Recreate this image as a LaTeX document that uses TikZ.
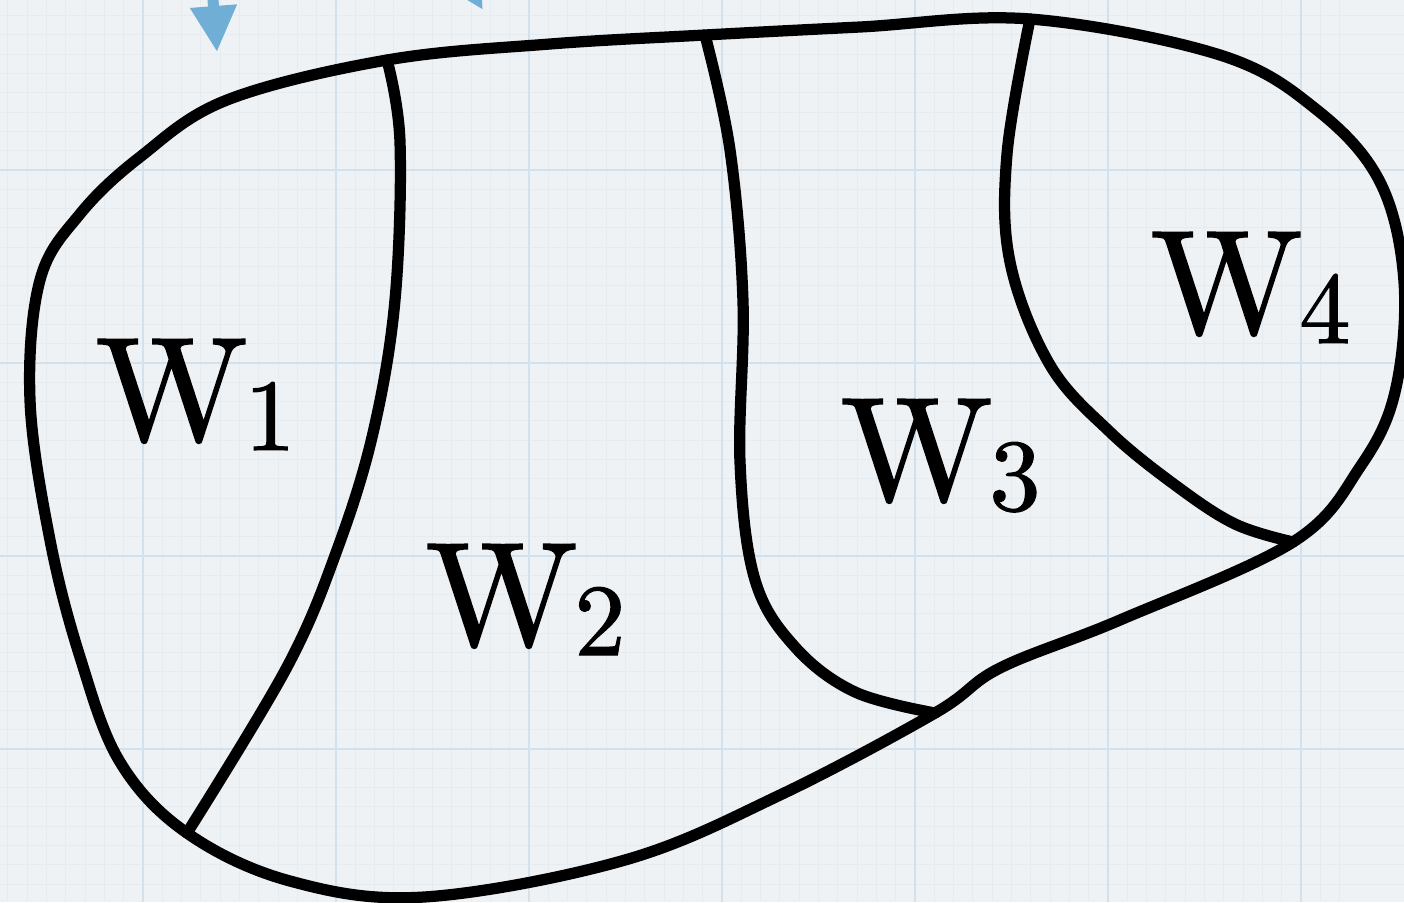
\documentclass[tikz,border=0pt]{standalone}
\usepackage{fontspec}
\usetikzlibrary{arrows.meta}
\newfontfamily\wfont[FakeBold=1.2]{lmroman10-regular.otf}
\definecolor{paper}{RGB}{238,242,245}
\definecolor{gridmajor}{RGB}{210,225,238}
\definecolor{gridminor}{RGB}{228,235,241}
\definecolor{arrowblue}{RGB}{112,174,214}
\newcommand{\wsub}[1]{W\kern-0.03cm\raisebox{-0.1cm}{\fontsize{29}{30}\selectfont #1}}
\begin{document}
\begin{tikzpicture}[
			chalk/.style={draw=black, line width=3.2pt, line cap=round, line join=round},
			wtext/.style={anchor=base west, inner sep=0pt, font=\wfont\fontsize{42}{50}\selectfont},
			arrow/.style={draw=arrowblue, line width=1.1mm, -{Triangle[length=4.6mm,width=4.4mm]}}
		]
		% Sfondo
		\clip (0,0) rectangle (14.04,9.02);
		\fill[paper] (0,0) rectangle (14.04,9.02);
		\foreach \x in {0,...,72} \draw[gridminor, line width=0.3pt] ({-0.50+\x*0.193},0) -- ++(0,9.02);
		\foreach \y in {0,...,48} \draw[gridminor, line width=0.3pt] (0,{-0.40+\y*0.193}) -- ++(14.04,0);
		\foreach \x in {0,...,7} \draw[gridmajor, line width=0.8pt] ({-0.50+\x*1.93},0) -- ++(0,9.02);
		\foreach \y in {0,...,4} \draw[gridmajor, line width=0.8pt] (0,{-0.40+\y*1.93}) -- ++(14.04,0);

		% Punti di giunzione
		\coordinate (j12top) at (3.87,8.42);
		\coordinate (j12bot) at (1.87,0.69);
		\coordinate (j23top) at (7.05,8.67);
		\coordinate (j23bot) at (9.35,1.89);
		\coordinate (j34top) at (10.30,8.83);
		\coordinate (j34bot) at (12.93,3.60);

		% Contorno
		\draw[chalk] plot[smooth cycle, tension=0.6] coordinates {(0.30,5.02) (0.40,6.22) (0.80,6.88) (1.40,7.45)
			(2.27,8.02) (j12top) (5.50,8.58) (j23top) (8.60,8.75) (j34top) (12.20,8.47) (13.17,7.92)
			(13.80,7.20) (14.04,6.20) (13.95,5.10) (13.60,4.35) (j34bot) (11.20,2.82) (10.00,2.34) (j23bot)
			(7.80,1.07) (6.25,0.42) (4.24,0.05) (2.90,0.21) (j12bot) (1.20,1.40) (0.80,2.45) (0.50,3.62)};

		% Divisioni
		\draw[chalk] plot[smooth, tension=0.6] coordinates {(j12top) (4.00,7.60) (3.95,6.02) (3.73,4.69)
			(3.37,3.52) (2.87,2.35) (j12bot)};
		\draw[chalk] plot[smooth, tension=0.6] coordinates {(j23top) (7.30,7.52) (7.43,6.00) (7.40,4.40)
			(7.55,3.22) (7.95,2.55) (8.55,2.10) (j23bot)};
		\draw[chalk] plot[smooth, tension=0.6] coordinates {(j34top) (10.07,7.48) (10.10,6.40) (10.50,5.37)
			(11.10,4.70) (11.75,4.17) (12.35,3.78) (j34bot)};

		% Nodi
		\node[wtext] (w1) at (0.95,4.62) {\wsub{1}};
		\node[wtext] (w2) at (4.25,2.57) {\wsub{2}};
		\node[wtext] (w3) at (8.40,4.02) {\wsub{3}};
		\node[wtext] (w4) at (11.50,5.69) {\wsub{4}};

		% Frecce
		\coordinate (s1) at (2.07,9.80);
		\coordinate (t1) at (2.17,8.50);
		\coordinate (s2) at (4.30,9.80);
		\coordinate (t2) at (4.83,8.92);
		\draw[arrow] (s1) -- (t1);
		\draw[arrow] (s2) -- (t2);
	\end{tikzpicture}
\end{document}
